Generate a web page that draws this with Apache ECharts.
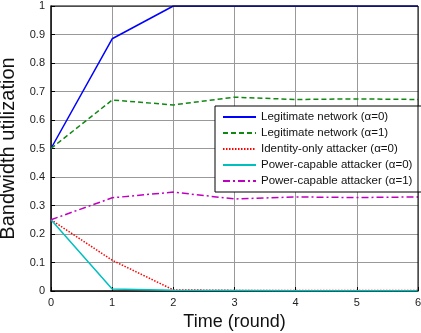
<!DOCTYPE html>
<html><head><meta charset="utf-8">
<script src="https://cdn.jsdelivr.net/npm/echarts@6/dist/echarts.min.js"></script>
<style>html,body{margin:0;padding:0;background:#fff}#c{width:421px;height:333px}</style>
</head><body><div id="c"></div>
<script>
var rounds = [0, 1, 2, 3, 4, 5, 6];
var legitA0 = [0.5, 0.885, 1, 1, 1, 1, 1];
var legitA1 = [0.5, 0.67, 0.653, 0.68, 0.672, 0.674, 0.672];
var identA0 = [0.25, 0.108, 0.004, 0.002, 0.002, 0.002, 0.002];
var powerA0 = [0.25, 0.007, 0.003, 0.002, 0.001, 0.001, 0.001];
var powerA1 = [0.25, 0.327, 0.347, 0.323, 0.33, 0.328, 0.33];
var names = ['Legitimate network (\u03b1=0)', 'Legitimate network (\u03b1=1)', 'Identity-only attacker (\u03b1=0)', 'Power-capable attacker (\u03b1=0)', 'Power-capable attacker (\u03b1=1)'];

function pts(arr){ return rounds.map(function(r,i){ return [r, arr[i]]; }); }
var font = 'Liberation Sans, Arial, sans-serif';
function mk(name, data, color, type){
  return {name:name, type:'line', data:pts(data), symbol:'none', z:3,
    lineStyle:{color:color, width:1.5, type:type}, itemStyle:{color:color}};
}
var chart = echarts.init(document.getElementById('c'), null, {renderer:'canvas'});
chart.setOption({
  animation:false,
  backgroundColor:'#fff',
  grid:{left:51, right:3, top:6, bottom:42, containLabel:false, outerBoundsMode:'none'},
  legend:{
    orient:'vertical', left:215, top:106,
    backgroundColor:'#fff', borderColor:'#000', borderWidth:1,
    padding:[5,16,5,7], itemGap:4, itemWidth:33, itemHeight:11,
    itemStyle:{color:'rgba(0,0,0,0)', borderWidth:0, opacity:0},
    textStyle:{fontFamily:font, fontSize:11.5, color:'#111'},
    data:names
  },
  xAxis:{type:'value', min:0, max:6, interval:1,
    name:'Time (round)', nameLocation:'middle', nameGap:22,
    nameTextStyle:{fontFamily:font, fontSize:18, color:'#111'},
    axisLine:{lineStyle:{color:'#000', width:1.5}},
    axisTick:{inside:true, length:4, lineStyle:{color:'#000'}},
    axisLabel:{fontFamily:font, fontSize:11, color:'#222', margin:6},
    splitLine:{show:true, lineStyle:{color:'#999', width:1}}
  },
  yAxis:{type:'value', min:0, max:1, interval:0.1,
    name:'Bandwidth utilization', nameLocation:'middle', nameGap:27,
    nameTextStyle:{fontFamily:font, fontSize:20, color:'#111'},
    axisLine:{lineStyle:{color:'#000', width:1.5}},
    axisTick:{inside:true, length:4, lineStyle:{color:'#000'}},
    axisLabel:{fontFamily:font, fontSize:11, color:'#222', margin:6,
      formatter:function(v){ return String(Math.round(v*10)/10); }},
    splitLine:{show:true, lineStyle:{color:'#999', width:1}}
  },
  series:[
    mk(names[0], legitA0, '#0000ff', 'solid'),
    mk(names[1], legitA1, '#118811', [5,3]),
    mk(names[2], identA0, '#ff0000', [1.5,1.5]),
    mk(names[3], powerA0, '#00bfbf', 'solid'),
    mk(names[4], powerA1, '#c000c0', [7,3,2,3])
  ]
});
chart.setOption({graphic:[
  {type:'line', shape:{x1:51, y1:6, x2:418, y2:6}, style:{stroke:'#000', lineWidth:1}, z:10},
  {type:'line', shape:{x1:418, y1:6, x2:418, y2:291}, style:{stroke:'#000', lineWidth:1}, z:10}
]});
</script></body></html>
